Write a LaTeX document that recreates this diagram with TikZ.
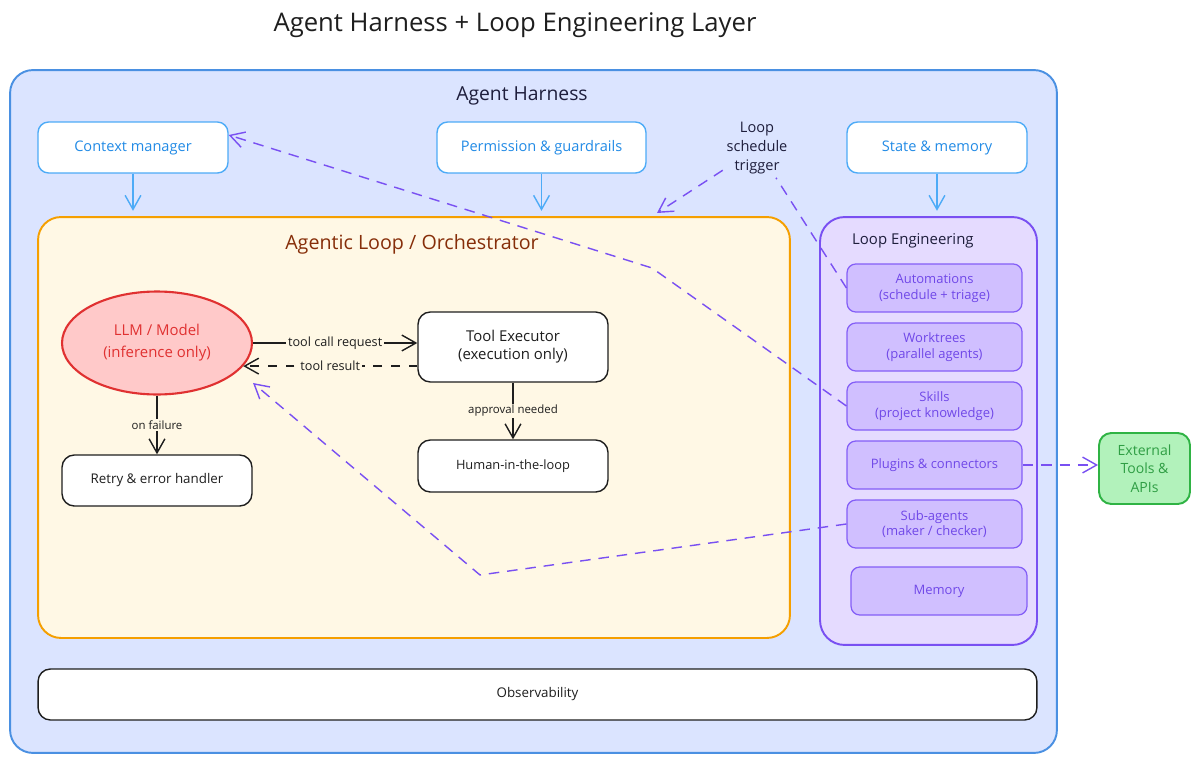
\documentclass[tikz,border=0pt]{standalone}
\usepackage{fontspec}
\setmainfont{Open Sans}
\usetikzlibrary{arrows.meta,calc,shapes.geometric}
\definecolor{harnF}{HTML}{DBE4FF}
\definecolor{harnS}{HTML}{4A90E2}
\definecolor{blueS}{HTML}{4DABF7}
\definecolor{blueT}{HTML}{228BE6}
\definecolor{loopF}{HTML}{FFF8E5}
\definecolor{loopS}{HTML}{F59F00}
\definecolor{loopT}{HTML}{862E09}
\definecolor{engF}{HTML}{E5DBFF}
\definecolor{engS}{HTML}{7950F2}
\definecolor{purF}{HTML}{D0BFFF}
\definecolor{purS}{HTML}{845EF7}
\definecolor{purT}{HTML}{7048E8}
\definecolor{dashP}{HTML}{7950F2}
\definecolor{extF}{HTML}{B2F2BB}
\definecolor{extS}{HTML}{2FB344}
\definecolor{extT}{HTML}{2F9E44}
\definecolor{llmF}{HTML}{FFC9C9}
\definecolor{llmS}{HTML}{E03131}
\definecolor{navy}{HTML}{1E1E3C}
\definecolor{ink}{HTML}{1E1E1E}
\newcommand\myfs[2]{\fontsize{#1}{#2}\selectfont}
\begin{document}
\begin{tikzpicture}[x=0.02cm,y=-0.02cm,
  container/.style={draw, inner sep=0pt, line width=1.1pt},
  topbox/.style={draw=blueS, fill=white, rounded corners=6pt, line width=0.8pt,
    minimum height=1.02cm, text=blueT, font=\myfs{8.3}{10}},
  purbox/.style={draw=purS, fill=purF, rounded corners=5pt, line width=0.7pt,
    minimum width=3.5cm, minimum height=0.96cm, text=purT, align=center, font=\myfs{7.4}{9}},
  blkbox/.style={draw=ink, fill=white, rounded corners=7pt, line width=0.8pt,
    minimum width=3.8cm, text=ink, align=center},
  openhead/.style={-{Straight Barb[length=8pt,width=9pt]}},
  bluearrow/.style={openhead, draw=blueS, line width=0.8pt, shorten >=3pt},
  blkarrow/.style={openhead, draw=ink, line width=0.8pt},
  purdash/.style={openhead, draw=dashP, line width=0.8pt, dash pattern=on 6pt off 4.5pt},
  edgelbl/.style={fill=loopF, inner sep=1pt, text=ink, font=\myfs{6.5}{7.5}}
]
\useasboundingbox (0,0) rectangle (1200,764);

% title
\node[text=ink, font=\myfs{14.6}{16}] (title) at (515,25) {Agent Harness + Loop Engineering Layer};

% containers
\node[container, draw=harnS, fill=harnF, rounded corners=13pt,
  minimum width=20.94cm, minimum height=13.66cm] (harness) at (533.5,411.5) {};
\node[text=navy, font=\myfs{11}{13}] (harnesslbl) at (522,96) {Agent Harness};

\node[container, draw=loopS, fill=loopF, rounded corners=13pt,
  minimum width=15.04cm, minimum height=8.42cm] (loop) at (414,427.5) {};
\node[text=loopT, font=\myfs{11.2}{13}] (looplbl) at (412,244) {Agentic Loop / Orchestrator};

\node[container, draw=engS, fill=engF, rounded corners=14pt,
  minimum width=4.34cm, minimum height=8.56cm] (eng) at (928.5,431) {};
\node[anchor=west, text=navy, font=\myfs{8.5}{10}] (englbl) at (846,241) {Loop Engineering};

% top boxes
\node[topbox, minimum width=3.8cm] (ctx) at (133,147.5) {Context manager};
\node[topbox, minimum width=4.18cm] (perm) at (541.5,147.5) {Permission \& guardrails};
\node[topbox, minimum width=3.6cm] (state) at (937,147.5) {State \& memory};
\node[text=navy, align=center, font=\myfs{8.3}{10.8}, inner sep=2pt] (trig) at (757,148) {Loop\\schedule\\trigger};

% loop engineering items
\node[purbox] (auto) at (934.5,288) {Automations\\(schedule + triage)};
\node[purbox] (work) at (934.5,347) {Worktrees\\(parallel agents)};
\node[purbox] (skills) at (934.5,406) {Skills\\(project knowledge)};
\node[purbox] (plug) at (934.5,465) {Plugins \& connectors};
\node[purbox] (sub) at (934.5,524) {Sub-agents\\(maker / checker)};
\node[purbox, minimum width=3.52cm] (mem) at (939,591) {Memory};

% external
\node[draw=extS, fill=extF, rounded corners=7pt, line width=1.1pt, minimum width=1.82cm,
  minimum height=1.42cm, text=extT, align=center, font=\myfs{8}{10.5}] (ext) at (1144.5,468.5) {External\\Tools \&\\APIs};

% agentic loop inner
\node[ellipse, draw=llmS, fill=llmF, line width=1.2pt, minimum width=3.8cm, minimum height=2.06cm,
  inner sep=0pt, text=llmS, align=center, font=\myfs{8.5}{12.5}] (llm) at (157,343) {LLM / Model\\(inference only)};
\node[blkbox, minimum height=1.4cm, font=\myfs{8.5}{10.2}] (tool) at (513,347) {Tool Executor\\(execution only)};
\node[blkbox, minimum height=1.04cm, font=\myfs{7.3}{9}] (human) at (513,466) {Human-in-the-loop};
\node[blkbox, minimum height=1.02cm, font=\myfs{7.6}{9}] (retry) at (157,480.5) {Retry \& error handler};

% observability
\node[blkbox, minimum width=19.98cm, minimum height=1.02cm, font=\myfs{7.6}{9}] (obs) at (537.5,694.5) {Observability};

% bend coordinates
\coordinate (b1) at (652,268);
\coordinate (b2) at (480,575);
\coordinate (lt) at (657,213);

% blue arrows
\draw[bluearrow] (ctx.south) -- (ctx.south |- loop.north);
\draw[bluearrow] (perm.south) -- (perm.south |- loop.north);
\draw[bluearrow] (state.south) -- (state.south |- eng.north);

% black arrows
\draw[blkarrow] (llm.east) -- (llm.east -| tool.west) node[edgelbl, midway, font=\myfs{7.2}{8}] {tool call request};
\draw[blkarrow, dash pattern=on 5pt off 5pt] (tool.west |- llm.-15) -- (llm.-15) node[edgelbl, midway, font=\myfs{7.2}{8}] {tool result};
\draw[blkarrow] (llm.south) -- (retry.north) node[edgelbl, midway] {on failure};
\draw[blkarrow] (tool.south) -- (human.north) node[edgelbl, midway] {approval needed};

% purple dashed connectors
\draw[purdash] (skills.west) -- (b1) -- ([yshift=0.25cm]ctx.east);
\draw[purdash] (auto.west) -- (trig) -- (lt);
\draw[purdash] (sub.west) -- (b2) -- ([yshift=-0.8cm]llm.east);
\draw[purdash] (plug.east) -- (ext.west |- plug.east);
\end{tikzpicture}
\end{document}
